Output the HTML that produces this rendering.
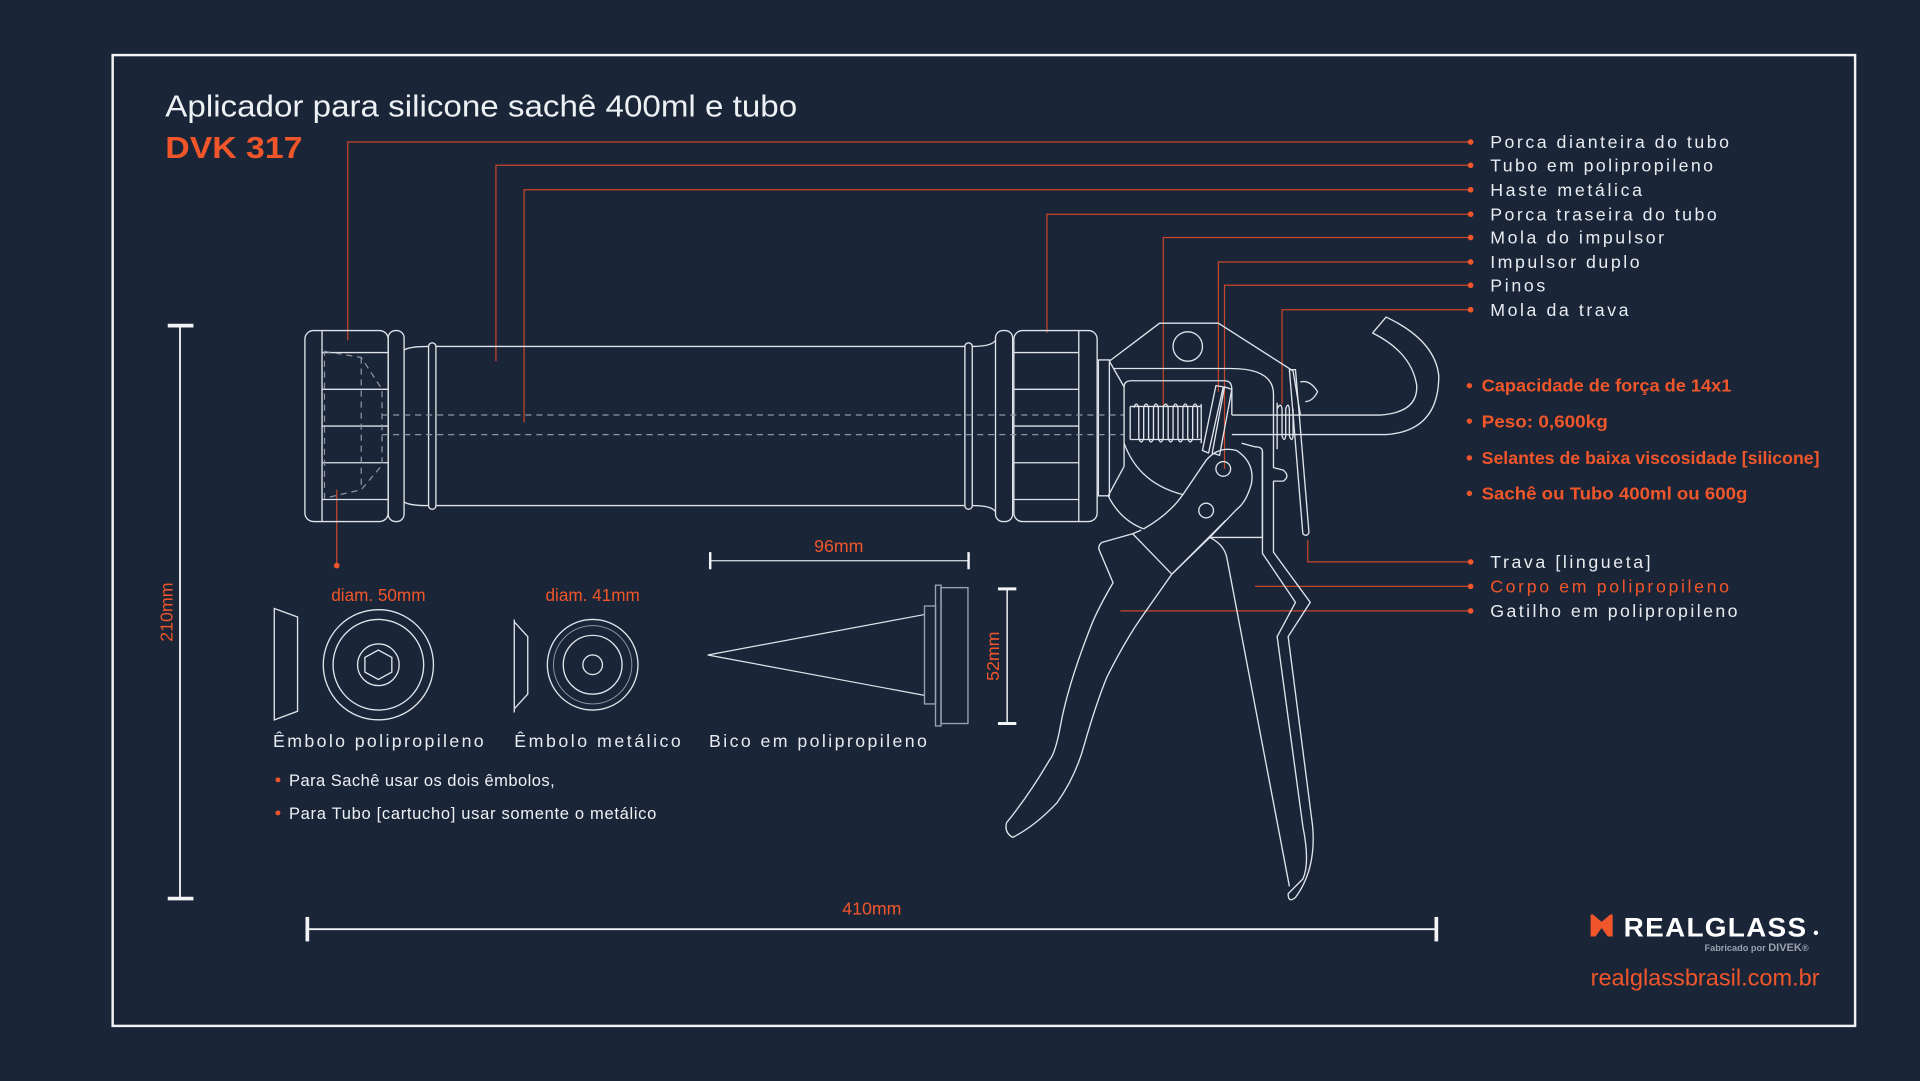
<!DOCTYPE html>
<html><head><meta charset="utf-8"><style>
html,body{margin:0;padding:0;background:#1a2538;width:1920px;height:1081px;overflow:hidden}
svg{display:block}
text{font-family:"Liberation Sans",sans-serif}
</style></head><body>
<svg width="1920" height="1081" viewBox="0 0 1568 883" preserveAspectRatio="none" xmlns="http://www.w3.org/2000/svg">
<rect x="0" y="0" width="1568" height="883" fill="#1a2538"/>
<rect x="92" y="45" width="1423" height="793" fill="none" stroke="#f2f4f6" stroke-width="2"/>

<text x="135" y="95" font-size="25" fill="#eef1f4" textLength="516" lengthAdjust="spacingAndGlyphs">Aplicador para silicone sachê 400ml e tubo</text>
<text x="135" y="129" font-size="25" font-weight="bold" fill="#f0562a" textLength="112" lengthAdjust="spacingAndGlyphs">DVK 317</text>

<!-- leader lines -->
<g stroke="#c8462a" stroke-width="1" fill="none">
<polyline points="1201,116 284,116 284,278"/>
<polyline points="1201,135 405,135 405,295"/>
<polyline points="1201,155 428,155 428,345"/>
<polyline points="1201,175 855,175 855,272"/>
<polyline points="1201,194 950,194 950,332"/>
<polyline points="1201,214 995,214 995,320"/>
<polyline points="1201,233 1000,233 1000,383"/>
<polyline points="1201,253 1047,253 1047,330"/>
<polyline points="1201,459 1068,459 1068,441"/>
<polyline points="1201,479 1025,479"/>
<polyline points="1201,499 915,499"/>
<polyline points="275,400 275,462"/>
</g>
<g fill="#f0562a">
<circle cx="1201" cy="116" r="2.3"/><circle cx="1201" cy="135" r="2.3"/><circle cx="1201" cy="155" r="2.3"/><circle cx="1201" cy="175" r="2.3"/>
<circle cx="1201" cy="194" r="2.3"/><circle cx="1201" cy="214" r="2.3"/><circle cx="1201" cy="233" r="2.3"/><circle cx="1201" cy="253" r="2.3"/>
<circle cx="1201" cy="459" r="2.3"/><circle cx="1201" cy="479" r="2.3"/><circle cx="1201" cy="499" r="2.3"/>
<circle cx="275" cy="462" r="2.3"/>
</g>
<g font-size="14.5" fill="#e8ecf0">
<text x="1217" y="121" textLength="195">Porca dianteira do tubo</text>
<text x="1217" y="140" textLength="182">Tubo em polipropileno</text>
<text x="1217" y="160" textLength="124">Haste metálica</text>
<text x="1217" y="180" textLength="185">Porca traseira do tubo</text>
<text x="1217" y="199" textLength="142">Mola do impulsor</text>
<text x="1217" y="219" textLength="122">Impulsor duplo</text>
<text x="1217" y="238" textLength="45">Pinos</text>
<text x="1217" y="258" textLength="113">Mola da trava</text>
<text x="1217" y="464" textLength="131">Trava [lingueta]</text>
<text x="1217" y="484" fill="#f0562a" textLength="195">Corpo em polipropileno</text>
<text x="1217" y="504" textLength="202">Gatilho em polipropileno</text>
</g>
<g font-size="14.5" font-weight="bold" fill="#f0562a">
<circle cx="1200" cy="315" r="2.2"/><circle cx="1200" cy="344" r="2.2"/><circle cx="1200" cy="374" r="2.2"/><circle cx="1200" cy="403" r="2.2"/>
<text x="1210" y="320" textLength="204" lengthAdjust="spacingAndGlyphs">Capacidade de força de 14x1</text>
<text x="1210" y="349" textLength="103" lengthAdjust="spacingAndGlyphs">Peso: 0,600kg</text>
<text x="1210" y="379" textLength="276" lengthAdjust="spacingAndGlyphs">Selantes de baixa viscosidade [silicone]</text>
<text x="1210" y="408" textLength="217" lengthAdjust="spacingAndGlyphs">Sachê ou Tubo 400ml ou 600g</text>
</g>

<!-- tube assembly -->
<g stroke="#dfe4ea" stroke-width="1.1" fill="none">
<rect x="249" y="270" width="68" height="156" rx="7"/>
<line x1="263" y1="270" x2="263" y2="426"/>
<line x1="263" y1="288" x2="317" y2="288"/><line x1="263" y1="318" x2="317" y2="318"/><line x1="263" y1="348" x2="317" y2="348"/><line x1="263" y1="378" x2="317" y2="378"/><line x1="263" y1="408" x2="317" y2="408"/>
<rect x="317" y="270" width="13" height="156" rx="6"/>
<path d="M330,286 Q334,283 350,283 M330,410 Q334,413 350,413"/>
<rect x="350" y="280" width="6" height="136" rx="3"/>
<line x1="356" y1="283" x2="788" y2="283"/><line x1="356" y1="413" x2="788" y2="413"/>
<rect x="788" y="280" width="6" height="136" rx="3"/>
<path d="M794,283 Q810,283 813,278 M794,413 Q810,413 813,418"/>
<rect x="813" y="270" width="14" height="156" rx="6"/>
<rect x="828" y="270" width="68" height="156" rx="7"/>
<line x1="881" y1="270" x2="881" y2="426"/>
<line x1="828" y1="288" x2="881" y2="288"/><line x1="828" y1="318" x2="881" y2="318"/><line x1="828" y1="348" x2="881" y2="348"/><line x1="828" y1="378" x2="881" y2="378"/><line x1="828" y1="408" x2="881" y2="408"/>
<rect x="897" y="294" width="9" height="111"/>
</g>
<g stroke="#8d96a3" stroke-width="1" fill="none" stroke-dasharray="5,4">
<line x1="312" y1="339" x2="918" y2="339"/><line x1="312" y1="355" x2="918" y2="355"/>
<path d="M265,287 L295,292 L312,318 L312,380 L295,400 L265,407 Z"/>
<line x1="295" y1="292" x2="295" y2="400"/>
</g>

<!-- gun body -->
<g stroke="#dfe4ea" stroke-width="1.1" fill="none" stroke-linejoin="round">
<path d="M906,295 L947,264 L995,264 L1056,303"/>
<circle cx="970" cy="283" r="12"/>
<path d="M906,295 L918,316 M905,405 L918,381"/>
<path d="M909,301 L1005,301 Q1040,301 1040,322 L1040,382 L1048,384 Q1054,389 1048,393 L1040,393 L1040,451 L1070,492 L1052,520 L1072,675 Q1075,710 1058,733 Q1052,738 1052,730 L1064,718 Q1070,705 1064,675 L1043,520 L1058,492 L1031,452 L1031,369 Q1031,365 1025,365 L1014,362"/>
<path d="M1056,303 L1062,339"/>
<path d="M918,316 Q918,311 924,311 L1000,311 Q1006,311 1006,318 L1006,339 M918,316 L918,381"/>
<path d="M918,362 Q930,395 966,404"/>
<path d="M905,405 Q915,425 934,432"/>
<path d="M934,432 Q955,420 966,404 L985,376 Q995,364 1010,368 Q1025,378 1022,395 Q1018,410 1010,416 L988,439 L957,469"/>
<circle cx="999" cy="383" r="6"/>
<circle cx="985" cy="417" r="6"/>
<path d="M988,439 L1031,439 M1031,439 L1031,369"/>
<path d="M988,439 Q1000,445 1002,456 L1053,724"/>
<path d="M957,469 L925,436 L900,443 Q896,446 898,450 L909,476 Q895,500 890,514 Q872,560 866,593 Q862,615 857,621 Q840,650 822,672 Q820,680 827,684 Q845,675 863,656 Q878,635 885,610 Q895,575 904,553 Q918,525 931,506 L957,469 L1001,425"/>
<path d="M925,436 L932,433"/>
<path d="M923,332 L923,359 M923,332 L981,332 M923,359 L981,359"/>
<path d="M926,333 q2,-6 4,0 v25 q2,6 4,0 v-25 q2,-6 4,0 v25 q2,6 4,0 v-25 q2,-6 4,0 v25 q2,6 4,0 v-25 q2,-6 4,0 v25 q2,6 4,0 v-25 q2,-6 4,0 v25 q2,6 4,0 v-25 q2,-6 4,0 v25 q2,6 4,0 v-25 q2,-6 4,0 v25"/>
<line x1="981" y1="330" x2="981" y2="362"/>
<path d="M993,315 L999,316 L987,370 L982,368 Z"/>
<path d="M1000,316 L1006,318 L996,372 L990,370 Z"/>
<path d="M1006,339 L1127,339 Q1158,337 1157,315 Q1153,288 1121,272 L1132,259 Q1172,278 1175,307 Q1175,352 1132,355 L1006,355"/>
<path d="M1053,302 L1058,302 L1069,435 Q1067,439 1064,436 Z"/>
<path d="M1062,312 Q1070,310 1076,320 Q1072,328 1066,328"/>
<path d="M1043,329 L1043,367 M1043,334 q3,-6 4,0 v22 q2,6 3,0 v-22 q2,-6 3,0 v22 q2,6 3,0 v-22"/>
</g>

<!-- pistons -->
<g stroke="#dfe4ea" stroke-width="1.1" fill="none">
<path d="M224,497 L243,504 L243,581 L224,588 Z"/>
<circle cx="309" cy="543" r="45"/><circle cx="309" cy="543" r="37"/><circle cx="309" cy="543" r="17"/>
<polygon points="309,531 320,537 320,549 309,555 298,549 298,537"/>
<path d="M420,506 L420,582 M420,508 L431,520 L431,567 L420,579"/>
<circle cx="484" cy="543" r="37"/><circle cx="484" cy="543" r="24"/><circle cx="484" cy="543" r="8"/>
</g>
<circle cx="484" cy="543" r="32" stroke="#8d96a3" stroke-width="0.8" fill="none"/>
<g stroke="#dfe4ea" stroke-width="1" fill="none">
<path d="M755,502 L578,535 L755,568"/>
</g>
<g stroke="#9aa3af" stroke-width="1.1" fill="none">
<rect x="755" y="495" width="9" height="80"/><rect x="764" y="478" width="4.5" height="115"/><rect x="768.5" y="480" width="22" height="111"/>
</g>
<text x="309" y="491" font-size="14" fill="#f0562a" text-anchor="middle">diam. 50mm</text>
<text x="484" y="491" font-size="14" fill="#f0562a" text-anchor="middle">diam. 41mm</text>
<g font-size="14.5" fill="#e8ecf0">
<text x="223" y="610" textLength="172">Êmbolo polipropileno</text>
<text x="420" y="610" textLength="136">Êmbolo metálico</text>
<text x="579" y="610" textLength="178">Bico em polipropileno</text>
</g>
<g font-size="13.5" fill="#eef1f4">
<circle cx="227" cy="637" r="2" fill="#f0562a"/><circle cx="227" cy="664" r="2" fill="#f0562a"/>
<text x="236" y="642" textLength="217">Para Sachê usar os dois êmbolos,</text>
<text x="236" y="669" textLength="300">Para Tubo [cartucho] usar somente o metálico</text>
</g>

<!-- dimensions -->
<g stroke="#f2f4f6" fill="none">
<line x1="147" y1="266" x2="147" y2="734" stroke-width="1.5"/>
<line x1="137" y1="266" x2="158" y2="266" stroke-width="3"/><line x1="137" y1="734" x2="158" y2="734" stroke-width="3"/>
<line x1="251" y1="759" x2="1173" y2="759" stroke-width="1.5"/>
<line x1="251" y1="749" x2="251" y2="769" stroke-width="3"/><line x1="1173" y1="749" x2="1173" y2="769" stroke-width="3"/>
<line x1="580" y1="458" x2="791" y2="458" stroke-width="1.2" stroke="#c5ccd4"/>
<line x1="580" y1="451" x2="580" y2="465" stroke-width="2"/><line x1="791" y1="451" x2="791" y2="465" stroke-width="2"/>
<line x1="822.5" y1="481" x2="822.5" y2="591" stroke-width="1.2"/>
<line x1="815" y1="481" x2="830" y2="481" stroke-width="2.5"/><line x1="815" y1="591" x2="830" y2="591" stroke-width="2.5"/>
</g>
<g font-size="14.5" fill="#f0562a">
<text x="712" y="747" text-anchor="middle">410mm</text>
<text x="685" y="451" text-anchor="middle">96mm</text>
<text transform="translate(141,500) rotate(-90)" text-anchor="middle">210mm</text>
<text transform="translate(816,536) rotate(-90)" text-anchor="middle">52mm</text>
</g>

<!-- logo -->
<path d="M1299,747 L1317,747 L1317,765 L1299,765 Z" fill="#f0562a"/>
<path d="M1301,747 L1308,753 L1315,747 Z M1303,765 L1308,758 L1313,765 Z" fill="#1a2538"/>
<text x="1326" y="765" font-size="22" font-weight="bold" fill="#ffffff" letter-spacing="1" textLength="150" lengthAdjust="spacingAndGlyphs">REALGLASS</text>
<circle cx="1483" cy="762" r="1.8" fill="#ffffff"/>
<text x="1392" y="777" font-size="7.5" fill="#9aa2ad" font-weight="bold">Fabricado por <tspan font-size="9">DIVEK</tspan>®</text>
<text x="1486" y="805" font-size="19" fill="#f0562a" text-anchor="end" textLength="187" lengthAdjust="spacingAndGlyphs">realglassbrasil.com.br</text>
</svg>
</body></html>
